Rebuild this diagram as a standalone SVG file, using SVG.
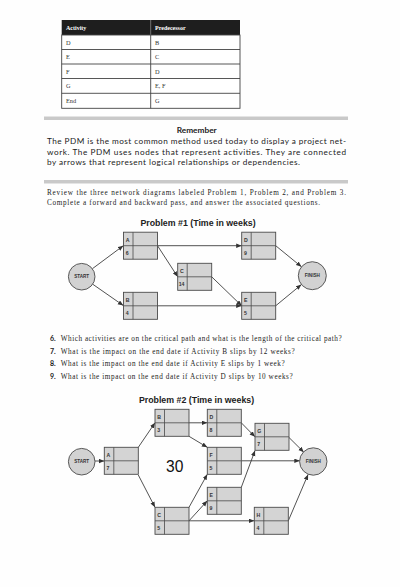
<svg xmlns="http://www.w3.org/2000/svg" width="400" height="587" viewBox="0 0 400 587">
<style>
.bg{fill:#fefefe}
.tb{fill:#fff;stroke:#444;stroke-width:0.9}
.th{font-family:"Liberation Serif",serif;font-size:6px;font-weight:bold;fill:#fff}
.td{font-family:"Liberation Serif",serif;font-size:6.3px;fill:#333}
.bar{fill:#c9c9c9}
.rem{font-family:"Lato","Open Sans",sans-serif;font-size:8.3px;font-weight:bold;fill:#222}
.para{font-family:"Lato","Open Sans",sans-serif;font-size:8.2px;fill:#222}
.ser{font-family:"Liberation Serif",serif;font-size:7.2px;fill:#222}
.num{font-family:"Lato","Open Sans",sans-serif;font-size:7px;font-weight:bold;fill:#222}
.title{font-family:"Liberation Sans",Arial,sans-serif;font-size:8.8px;font-weight:bold;fill:#222;text-anchor:middle}
.nb{fill:#d4d4d4;stroke:#4a4a4a;stroke-width:0.9}
.nl{stroke:#4a4a4a;stroke-width:0.8}
.nt{font-family:"Liberation Sans",Arial,sans-serif;font-size:5.2px;font-weight:bold;fill:#333}
.cc{fill:#d2d2d2;stroke:#4a4a4a;stroke-width:0.9}
.ct{font-family:"Liberation Sans",Arial,sans-serif;font-size:4.6px;font-weight:bold;fill:#333;text-anchor:middle}
.cn{fill:none;stroke:#333;stroke-width:0.85}
.big{font-family:"Liberation Sans",Arial,sans-serif;font-size:15.6px;fill:#111;text-anchor:middle}
</style>
<defs>
<marker id="ah" markerUnits="userSpaceOnUse" markerWidth="6" markerHeight="5" refX="5.5" refY="2.25" orient="auto">
<path d="M0,0 L5.5,2.25 L0,4.5 z" fill="#333"/>
</marker>
<g id="nodebox">
<rect class="nb" x="0" y="0" width="34" height="27"/>
<line class="nl" x1="0" y1="13.5" x2="34" y2="13.5"/>
<line class="nl" x1="9.5" y1="0" x2="9.5" y2="27"/>
</g>
</defs>
<rect class="bg" x="0" y="0" width="400" height="587"/>

<g id="table">
<rect x="61.7" y="20" width="178.3" height="15" fill="#1e1e1e"/>
<line x1="150.7" y1="20" x2="150.7" y2="35" stroke="#888" stroke-width="0.8"/>
<text class="th" x="66" y="30">Activity</text>
<text class="th" x="155" y="30">Predecessor</text>
<rect class="tb" x="61.7" y="35" width="178.3" height="73.3"/>
<line class="tb" x1="61.7" y1="49.5" x2="240" y2="49.5"/>
<line class="tb" x1="61.7" y1="64" x2="240" y2="64"/>
<line class="tb" x1="61.7" y1="78.5" x2="240" y2="78.5"/>
<line class="tb" x1="61.7" y1="93.3" x2="240" y2="93.3"/>
<line class="tb" x1="150.7" y1="35" x2="150.7" y2="108.3"/>
<text class="td" x="66" y="44.7">D</text><text class="td" x="155" y="44.7">B</text>
<text class="td" x="66" y="59.2">E</text><text class="td" x="155" y="59.2">C</text>
<text class="td" x="66" y="73.7">F</text><text class="td" x="155" y="73.7">D</text>
<text class="td" x="66" y="88.3">G</text><text class="td" x="155" y="88.3">E, F</text>
<text class="td" x="66" y="103.2">End</text><text class="td" x="155" y="103.2">G</text>
</g>

<g id="remember">
<rect class="bar" x="44" y="116.5" width="304" height="3.5"/>
<text class="rem" x="196.7" y="132.5" text-anchor="middle">Remember</text>
<text class="para" x="47" y="143.5" textLength="299" lengthAdjust="spacing">The PDM is the most common method used today to display a project net-</text>
<text class="para" x="47" y="154.5" textLength="299" lengthAdjust="spacing">work. The PDM uses nodes that represent activities. They are connected</text>
<text class="para" x="47" y="165.3" textLength="253" lengthAdjust="spacing">by arrows that represent logical relationships or dependencies.</text>
<rect class="bar" x="44" y="180" width="304" height="3.5"/>
</g>

<g id="intro">
<text class="ser" x="47" y="194.5" textLength="299" lengthAdjust="spacing">Review the three network diagrams labeled Problem 1, Problem 2, and Problem 3.</text>
<text class="ser" x="47" y="204.5" textLength="273" lengthAdjust="spacing">Complete a forward and backward pass, and answer the associated questions.</text>
</g>

<text class="title" x="198" y="225.5">Problem #1 (Time in weeks)</text>

<g id="p1-connectors">
<line class="cn" x1="92.4" y1="268.7" x2="123.3" y2="245.7" marker-end="url(#ah)"/>
<line class="cn" x1="92.7" y1="284.2" x2="123.3" y2="305.5" marker-end="url(#ah)"/>
<line class="cn" x1="157.5" y1="245.7" x2="241.7" y2="245.7" marker-end="url(#ah)"/>
<line class="cn" x1="157.5" y1="245.7" x2="177.7" y2="276.8" marker-end="url(#ah)"/>
<line class="cn" x1="157.5" y1="305.8" x2="241.7" y2="305.8" marker-end="url(#ah)"/>
<line class="cn" x1="211.7" y1="276.8" x2="241.7" y2="305.8" marker-end="url(#ah)"/>
<line class="cn" x1="275.7" y1="245.7" x2="301.5" y2="266.8" marker-end="url(#ah)"/>
<line class="cn" x1="275.7" y1="305.8" x2="301.4" y2="284.6" marker-end="url(#ah)"/>
</g>

<g id="p1-start"><circle class="cc" cx="81.7" cy="276.7" r="13.3"/><text class="ct" x="81.7" y="278.3">START</text></g>
<g id="p1-finish"><circle class="cc" cx="312.3" cy="275.7" r="14"/><text class="ct" x="312.3" y="277.3">FINISH</text></g>
<g id="p1-A" transform="translate(123.5,232.2)"><use href="#nodebox"/><text class="nt" x="2.2" y="9.4">A</text><text class="nt" x="2.2" y="23">6</text></g>
<g id="p1-B" transform="translate(123.5,292.3)"><use href="#nodebox"/><text class="nt" x="2.2" y="9.4">B</text><text class="nt" x="2.2" y="23">4</text></g>
<g id="p1-C" transform="translate(177.7,263.3)"><use href="#nodebox"/><text class="nt" x="2.2" y="9.4">C</text><text class="nt" x="1" y="23">14</text></g>
<g id="p1-D" transform="translate(241.7,232.2)"><use href="#nodebox"/><text class="nt" x="2.2" y="9.4">D</text><text class="nt" x="2.2" y="23">9</text></g>
<g id="p1-E" transform="translate(241.7,292.3)"><use href="#nodebox"/><text class="nt" x="2.2" y="9.4">E</text><text class="nt" x="2.2" y="23">5</text></g>

<g id="questions">
<text class="num" x="50" y="341">6.</text>
<text class="ser" x="60.7" y="341" textLength="281" lengthAdjust="spacing">Which activities are on the critical path and what is the length of the critical path?</text>
<text class="num" x="50" y="353.6">7.</text>
<text class="ser" x="60.7" y="353.6" textLength="234" lengthAdjust="spacing">What is the impact on the end date if Activity B slips by 12 weeks?</text>
<text class="num" x="50" y="366.2">8.</text>
<text class="ser" x="60.7" y="366.2" textLength="224" lengthAdjust="spacing">What is the impact on the end date if Activity E slips by 1 week?</text>
<text class="num" x="50" y="378.8">9.</text>
<text class="ser" x="60.7" y="378.8" textLength="232" lengthAdjust="spacing">What is the impact on the end date if Activity D slips by 10 weeks?</text>
</g>

<text class="title" x="196.5" y="402.5">Problem #2 (Time in weeks)</text>

<g id="p2-connectors">
<line class="cn" x1="95" y1="461" x2="104.3" y2="461" marker-end="url(#ah)"/>
<line class="cn" x1="138.3" y1="447.3" x2="155" y2="422.8" marker-end="url(#ah)"/>
<line class="cn" x1="138.3" y1="475" x2="155" y2="507.3" marker-end="url(#ah)"/>
<line class="cn" x1="189" y1="422.8" x2="207.3" y2="422.8" marker-end="url(#ah)"/>
<line class="cn" x1="189" y1="436.3" x2="207.3" y2="447.3" marker-end="url(#ah)"/>
<line class="cn" x1="241.3" y1="422.8" x2="255" y2="436.8" marker-end="url(#ah)"/>
<line class="cn" x1="241.3" y1="460.8" x2="299.8" y2="460.8" marker-end="url(#ah)"/>
<line class="cn" x1="288.3" y1="436.8" x2="303.8" y2="452.2" marker-end="url(#ah)"/>
<line class="cn" x1="241.3" y1="487.3" x2="255" y2="450.6" marker-end="url(#ah)"/>
<line class="cn" x1="189" y1="507.3" x2="207.3" y2="474.3" marker-end="url(#ah)"/>
<line class="cn" x1="189" y1="520.8" x2="207.3" y2="500.8" marker-end="url(#ah)"/>
<line class="cn" x1="189" y1="520.8" x2="254.3" y2="520.8" marker-end="url(#ah)"/>
<line class="cn" x1="288.3" y1="520.8" x2="308.1" y2="474.4" marker-end="url(#ah)"/>
</g>

<g id="p2-start"><circle class="cc" cx="81.7" cy="461.7" r="13.3"/><text class="ct" x="81.7" y="463.3">START</text></g>
<g id="p2-finish"><circle class="cc" cx="313.3" cy="461.5" r="13.7"/><text class="ct" x="313.3" y="463.1">FINISH</text></g>
<g id="p2-A" transform="translate(104.3,447.3)"><use href="#nodebox"/><text class="nt" x="2.2" y="9.4">A</text><text class="nt" x="2.2" y="23">7</text></g>
<g id="p2-B" transform="translate(155,409.3)"><use href="#nodebox"/><text class="nt" x="2.2" y="9.4">B</text><text class="nt" x="2.2" y="23">3</text></g>
<g id="p2-C" transform="translate(155,507.3)"><use href="#nodebox"/><text class="nt" x="2.2" y="9.4">C</text><text class="nt" x="2.2" y="23">5</text></g>
<g id="p2-D" transform="translate(207.3,409.3)"><use href="#nodebox"/><text class="nt" x="2.2" y="9.4">D</text><text class="nt" x="2.2" y="23">8</text></g>
<g id="p2-F" transform="translate(207.3,447.3)"><use href="#nodebox"/><text class="nt" x="2.2" y="9.4">F</text><text class="nt" x="2.2" y="23">5</text></g>
<g id="p2-E" transform="translate(207.3,487.3)"><use href="#nodebox"/><text class="nt" x="2.2" y="9.4">E</text><text class="nt" x="2.2" y="23">9</text></g>
<g id="p2-G" transform="translate(255,423.3)"><use href="#nodebox"/><text class="nt" x="2.2" y="9.4">G</text><text class="nt" x="2.2" y="23">7</text></g>
<g id="p2-H" transform="translate(254.3,507.3)"><use href="#nodebox"/><text class="nt" x="2.2" y="9.4">H</text><text class="nt" x="2.2" y="23">4</text></g>

<text class="big" x="174.7" y="472.3">30</text>
</svg>
